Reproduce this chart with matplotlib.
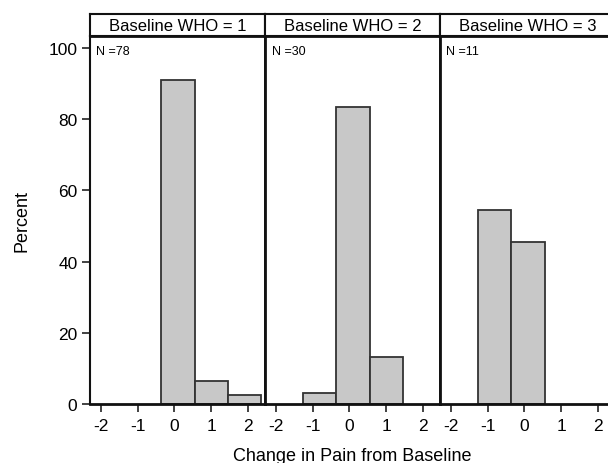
import matplotlib
matplotlib.use("Agg")
import matplotlib.pyplot as plt

plt.rcParams['font.family'] = ['Liberation Sans', 'DejaVu Sans']
plt.rcParams['axes.unicode_minus'] = False

# ---- data ----
panel_titles = ["Baseline WHO = 1", "Baseline WHO = 2", "Baseline WHO = 3"]
panel_n = [78, 30, 11]
bin_edges = [-1.27, -0.36, 0.55, 1.46, 2.37]
percent_who1 = [0.0, 91.0, 6.4, 2.6]
percent_who2 = [3.3, 83.3, 13.3, 0.0]
percent_who3 = [54.5, 45.5, 0.0, 0.0]
x_ticks = [-2, -1, 0, 1, 2]
x_tick_labels = ["-2", "-1", "0", "1", "2"]
y_ticks = [0, 20, 40, 60, 80, 100]
y_tick_labels = ["0", "20", "40", "60", "80", "100"]
x_label = "Change in Pain from Baseline"
y_label = "Percent"

series = [percent_who1, percent_who2, percent_who3]

W, H = 608, 464
fig = plt.figure(figsize=(W / 100, H / 100), dpi=100)

left_px = 90
panel_w = 175
top_px = 36.7
bottom_px = 405.3
header_top = 15

bar_fc = "#c8c8c8"
bar_ec = "#333333"

for i in range(3):
    x0 = (left_px + i * panel_w) / W
    ax = fig.add_axes([x0, (H - bottom_px) / H, panel_w / W, (bottom_px - top_px) / H])
    vals = series[i]
    lefts = [bin_edges[k] for k in range(len(vals)) if vals[k] > 0]
    widths = [bin_edges[k + 1] - bin_edges[k] for k in range(len(vals)) if vals[k] > 0]
    heights = [v for v in vals if v > 0]
    ax.bar(lefts, heights, width=widths, align='edge', color=bar_fc,
           edgecolor=bar_ec, linewidth=1.3, zorder=2)
    ax.set_xlim(-2.3, 2.47)
    ax.set_ylim(0, 103.4)
    ax.set_xticks(x_ticks)
    ax.set_xticklabels(x_tick_labels, fontsize=12.5)
    ax.tick_params(axis='x', direction='out', length=6, width=1.2, pad=4, colors='#222222',
                   labelcolor='black')
    if i == 0:
        ax.set_yticks(y_ticks)
        ax.set_yticklabels(y_tick_labels, fontsize=12.5)
        ax.tick_params(axis='y', direction='out', length=6, width=1.2, pad=3, colors='#222222',
                       labelcolor='black')
    else:
        ax.set_yticks([])
    for name, s in ax.spines.items():
        s.set_linewidth(1.5 if name == 'left' and i == 0 else 2.0)
        s.set_color('#111111')
    ax.text(6.5 / panel_w, 1 - 15.5 / (bottom_px - top_px), f"N ={panel_n[i]}",
            transform=ax.transAxes, fontsize=9, ha='left', va='center')

    hax = fig.add_axes([x0, (H - top_px) / H, panel_w / W, (top_px - header_top) / H])
    hax.set_xticks([])
    hax.set_yticks([])
    for s in hax.spines.values():
        s.set_linewidth(1.5)
        s.set_color('#111111')
    hax.text(0.5, 0.45, panel_titles[i], transform=hax.transAxes, fontsize=12,
             ha='center', va='center')

fig.text(22 / W, 1 - 221 / H, y_label, rotation=90, fontsize=13, ha='center', va='center')
fig.text(352 / W, 1 - 457 / H, x_label, fontsize=13, ha='center', va='center')

fig.savefig("out.png", dpi=100)
